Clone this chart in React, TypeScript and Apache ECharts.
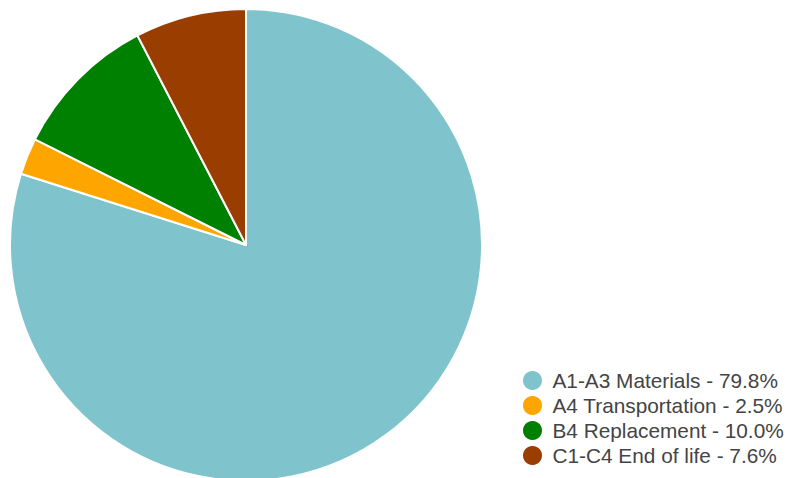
import React, { useEffect, useRef } from "react";
import * as echarts from "echarts";

const categories = ["A1-A3 Materials", "A4 Transportation", "B4 Replacement", "C1-C4 End of life"];
const values = [79.8, 2.5, 10.0, 7.6];
const colors = ["#7FC4CC", "#FFA500", "#008000", "#993D00"];

export default function App() {
  const ref = useRef<HTMLDivElement>(null);
  useEffect(() => {
    const chart = echarts.init(ref.current!, null, { renderer: "svg" });
    chart.setOption({
      animation: false,
      legend: {
        orient: "vertical",
        left: 521,
        top: 369,
        padding: 0,
        icon: "circle",
        itemWidth: 30,
        itemHeight: 21,
        itemGap: 2,
        textStyle: { fontFamily: "Liberation Sans, Arial, sans-serif", fontSize: 20.8, color: "#444" },
        formatter: (name: string) => {
          const i = categories.indexOf(name);
          return `${name} - ${values[i].toFixed(1)}%`;
        },
        data: categories,
      },
      series: [
        {
          type: "pie",
          center: [246, 245],
          radius: [0, 236],
          startAngle: 90,
          clockwise: true,
          label: { show: false },
          labelLine: { show: false },
          itemStyle: { borderColor: "#fff", borderWidth: 2 },
          emphasis: { disabled: true },
          data: categories.map((c, i) => ({ name: c, value: values[i], itemStyle: { color: colors[i] } })),
        },
      ],
    });
    return () => chart.dispose();
  }, []);
  return <div ref={ref} style={{ width: 795, height: 478, position: "absolute", left: 0, top: 0 }} />;
}
